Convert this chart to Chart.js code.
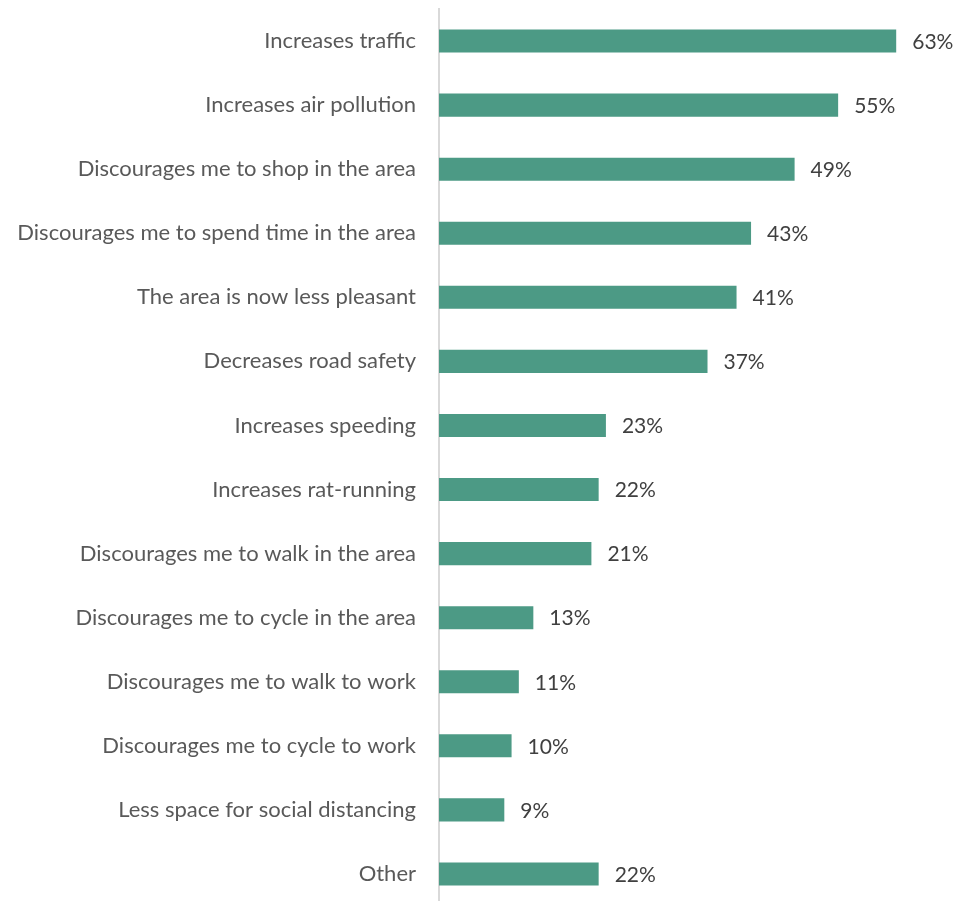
<!DOCTYPE html>
<html lang="en">
<head>
    <meta charset="UTF-8">
    <title>Reasons against the scheme</title>
    <script src="https://cdn.jsdelivr.net/npm/chart.js"></script>
    <style>
        html, body {
            margin: 0;
            padding: 0;
            background: #ffffff;
            overflow: hidden;
        }
        #wrap {
            width: 962px;
            height: 906px;
        }
    </style>
</head>
<body>
    <div id="wrap">
        <canvas id="reasonsChart" width="962" height="906"></canvas>
    </div>

    <script>
        const categories = [
            'Increases traffic',
            'Increases air pollution',
            'Discourages me to shop in the area',
            'Discourages me to spend time in the area',
            'The area is now less pleasant',
            'Decreases road safety',
            'Increases speeding',
            'Increases rat-running',
            'Discourages me to walk in the area',
            'Discourages me to cycle in the area',
            'Discourages me to walk to work',
            'Discourages me to cycle to work',
            'Less space for social distancing',
            'Other'
        ];
        const percentages = [63, 55, 49, 43, 41, 37, 23, 22, 21, 13, 11, 10, 9, 22];

        const FONT = "Lato, 'Open Sans', sans-serif";

        // writes "NN%" just right of each bar end
        const barValueLabels = {
            id: 'barValueLabels',
            afterDatasetsDraw(chart) {
                const ctx = chart.ctx;
                const meta = chart.getDatasetMeta(0);
                ctx.save();
                ctx.font = '21px ' + FONT;
                ctx.fillStyle = '#404040';
                ctx.textAlign = 'left';
                ctx.textBaseline = 'middle';
                meta.data.forEach((bar, i) => {
                    ctx.fillText(percentages[i] + '%', bar.x + 16, bar.y + 1);
                });
                ctx.restore();
            }
        };

        new Chart(document.getElementById('reasonsChart'), {
            type: 'bar',
            data: {
                labels: categories,
                datasets: [{
                    data: percentages,
                    backgroundColor: '#4C9A85',
                    borderWidth: 0,
                    barPercentage: 0.36,
                    categoryPercentage: 1
                }]
            },
            options: {
                indexAxis: 'y',
                responsive: false,
                animation: false,
                layout: {
                    padding: { top: 9, right: 15, bottom: 0, left: 0 }
                },
                scales: {
                    x: {
                        display: false,
                        min: 0,
                        max: 70
                    },
                    y: {
                        afterFit(scale) {
                            scale.width = 439;
                            // tick padding would otherwise push the plot down
                            scale.paddingTop = 0;
                            scale.paddingBottom = 0;
                        },
                        grid: { display: false, drawTicks: false },
                        border: { display: true, color: '#d9d9d9', width: 2 },
                        ticks: {
                            color: '#595959',
                            padding: 23,
                            font: { family: FONT, size: 22 }
                        }
                    }
                },
                plugins: {
                    legend: { display: false },
                    tooltip: { enabled: false }
                }
            },
            plugins: [barValueLabels]
        });
    </script>
</body>
</html>
